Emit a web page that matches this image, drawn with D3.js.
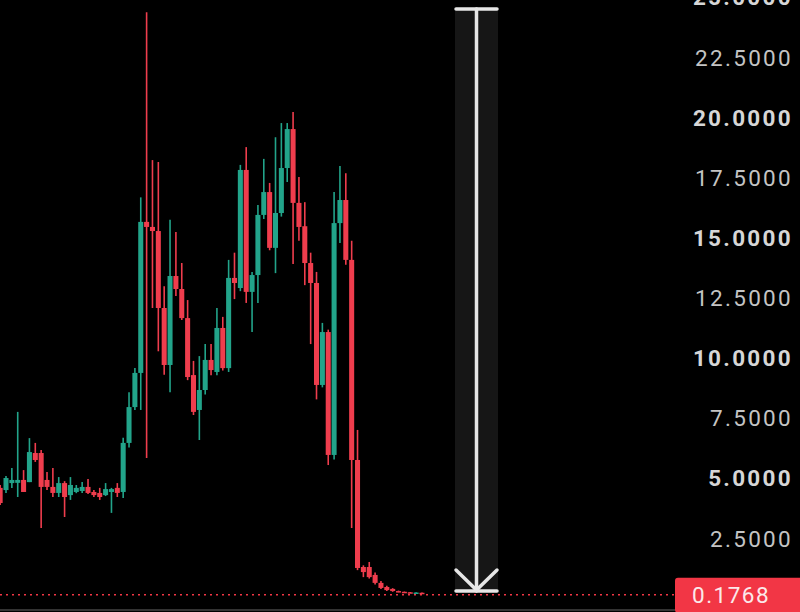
<!DOCTYPE html>
<html>
<head>
<meta charset="utf-8">
<script src="https://cdn.jsdelivr.net/npm/d3@7"></script>
<style>
  body { margin: 0; background: #000; }
  svg { display: block; }
</style>
</head>
<body>
<div id="chart"></div>
<script>
// candle data, one entry per bar
var opens  = [4.62, 4.53, 4.82, 4.83, 4.95, 4.86, 6.07, 6.07, 4.95, 4.66, 4.41, 4.82, 4.32, 4.45, 4.49, 4.66, 4.45, 4.41, 4.32, 4.45, 4.62,
              4.45, 6.49, 7.98, 9.40, 15.68, 15.47, 15.30, 12.10, 9.73, 13.43, 12.89, 11.68, 9.31, 7.86, 8.69, 9.94, 9.44, 11.27, 9.60, 13.35,
              12.93, 17.84, 12.77, 13.47, 15.97, 16.92, 14.60, 16.05, 17.92, 19.54, 16.47, 15.50, 13.97, 13.14, 8.90, 11.10, 5.99, 15.63, 16.59,
              14.10, 5.78, 1.33, 1.33, 1.00, 0.67, 0.50, 0.42, 0.33, 0.30, 0.28, 0.25, 0.26];
var highs  = [4.74, 5.11, 5.45, 7.78, 5.36, 6.69, 6.49, 6.20, 5.28, 5.45, 5.07, 4.90, 5.07, 4.74, 4.86, 4.99, 4.53, 4.62, 4.82, 4.62, 4.82,
              6.70, 8.60, 9.60, 16.70, 24.40, 18.25, 18.17, 13.00, 15.77, 15.26, 13.97, 12.43, 9.90, 10.10, 10.60, 10.60, 12.10, 11.73, 14.10, 14.40,
              18.05, 18.79, 13.60, 16.38, 18.30, 17.30, 19.20, 19.79, 19.79, 20.25, 17.55, 16.50, 14.40, 13.60, 11.48, 11.20, 16.92, 18.00, 17.70,
              14.90, 7.03, 1.40, 1.54, 1.10, 0.75, 0.55, 0.45, 0.35, 0.31, 0.29, 0.28, 0.27];
var lows   = [3.91, 4.41, 4.62, 4.24, 4.45, 4.86, 5.70, 2.95, 4.53, 4.24, 4.24, 3.41, 4.12, 4.40, 4.41, 4.37, 4.24, 4.12, 4.28, 3.58, 4.24,
              4.20, 6.30, 7.86, 7.86, 5.86, 12.10, 10.30, 9.32, 8.60, 12.60, 11.60, 9.10, 7.65, 6.61, 8.50, 9.30, 9.30, 9.50, 9.44, 12.47,
              12.80, 12.31, 11.10, 12.31, 15.80, 14.50, 13.55, 15.90, 17.34, 13.93, 14.90, 13.05, 10.60, 8.30, 8.80, 5.57, 5.80, 14.80, 13.90,
              2.95, 1.20, 0.91, 0.85, 0.60, 0.42, 0.33, 0.30, 0.28, 0.27, 0.25, 0.24, 0.24];
var closes = [3.99, 5.03, 4.95, 4.95, 4.45, 6.11, 5.78, 4.66, 4.66, 4.41, 4.82, 4.24, 4.74, 4.62, 4.66, 4.41, 4.32, 4.24, 4.57, 4.57, 4.41,
              6.49, 7.98, 9.40, 15.68, 15.47, 15.30, 12.10, 9.73, 13.43, 12.89, 11.68, 9.23, 7.78, 8.69, 9.94, 9.52, 11.27, 9.60, 13.35, 13.14,
              17.84, 12.77, 13.47, 15.97, 16.92, 14.60, 16.05, 17.92, 19.54, 16.47, 15.47, 13.97, 13.14, 8.90, 11.10, 5.99, 15.63, 16.59, 14.10,
              5.78, 1.29, 1.12, 0.91, 0.67, 0.46, 0.37, 0.33, 0.30, 0.28, 0.26, 0.27, 0.25];

var tickValues = [2.5, 5, 7.5, 10, 12.5, 15, 17.5, 20, 22.5, 25];
var lastPrice = 0.1768;
var measureFrom = 24.53, measureTo = 0.33;   // the ruler tool drawn over the chart

var width = 800, height = 612;
var upColor = "#22a48a", downColor = "#ef3d4d";

var svg = d3.select("#chart").append("svg")
  .attr("width", width)
  .attr("height", height)
  .style("background", "#000");

var candles = opens.map(function(o, i) {
  return {i: i, o: o, h: highs[i], l: lows[i], c: closes[i]};
});

// x: one band per bar, y: price
var x = d3.scaleBand()
  .domain(d3.range(candles.length))
  .range([-3.2, -3.2 + candles.length * 5.87])
  .padding(0.14);
var y = d3.scaleLinear()
  .domain([0, 25])
  .range([599, -2.25]);

// ruler band + arrow
var rx0 = 455, rx1 = 498, rxm = (rx0 + rx1) / 2;
svg.append("rect")
  .attr("x", rx0).attr("width", rx1 - rx0)
  .attr("y", y(measureFrom)).attr("height", y(measureTo) - y(measureFrom))
  .attr("fill", "#161616");

// bottom pane edge
svg.append("line")
  .attr("x1", 0).attr("x2", width)
  .attr("y1", 610).attr("y2", 610)
  .attr("stroke", "#333").attr("stroke-width", 2);

// candles
var g = svg.append("g");
var bars = g.selectAll(".candle")
  .data(candles).enter()
  .append("g")
  .attr("class", "candle");

bars.append("line")
  .attr("x1", function(d) { return x(d.i) + x.bandwidth() / 2; })
  .attr("x2", function(d) { return x(d.i) + x.bandwidth() / 2; })
  .attr("y1", function(d) { return y(d.h); })
  .attr("y2", function(d) { return y(d.l); })
  .attr("stroke", function(d) { return d.c >= d.o ? upColor : downColor; })
  .attr("stroke-width", 1.6);

bars.append("rect")
  .attr("x", function(d) { return x(d.i); })
  .attr("width", x.bandwidth())
  .attr("y", function(d) { return y(Math.max(d.o, d.c)); })
  .attr("height", function(d) { return Math.max(1.5, Math.abs(y(d.o) - y(d.c))); })
  .attr("fill", function(d) { return d.c >= d.o ? upColor : downColor; });

// arrow on top of the band
var arrow = svg.append("g")
  .attr("stroke", "#e6e6e6")
  .attr("stroke-width", 3.5)
  .attr("stroke-linecap", "round")
  .attr("fill", "none");
arrow.append("line")
  .attr("x1", rxm).attr("x2", rxm)
  .attr("y1", y(measureFrom)).attr("y2", y(measureTo));
arrow.append("line")
  .attr("x1", rx0 + 1).attr("x2", rx1 - 1)
  .attr("y1", y(measureFrom)).attr("y2", y(measureFrom));
arrow.append("line")
  .attr("x1", rx0 + 1).attr("x2", rx1 - 1)
  .attr("y1", y(measureTo)).attr("y2", y(measureTo));
arrow.append("path")
  .attr("d", "M" + (rx0 + 1) + "," + (y(measureTo) - 21) + "L" + rxm + "," + (y(measureTo) - 1) + "L" + (rx1 - 1) + "," + (y(measureTo) - 21));

// last price line
svg.append("line")
  .attr("x1", 0).attr("x2", 675)
  .attr("y1", y(lastPrice)).attr("y2", y(lastPrice))
  .attr("stroke", "#f23645")
  .attr("stroke-width", 1.5)
  .attr("stroke-dasharray", "2,4");

// y axis labels on the right
var axis = d3.axisRight(y)
  .tickValues(tickValues)
  .tickSize(0)
  .tickFormat(d3.format(".4f"));
var ax = svg.append("g")
  .attr("transform", "translate(793,0)")
  .call(axis);
ax.select(".domain").remove();
ax.selectAll("text")
  .attr("x", 0)
  .attr("text-anchor", "end")
  .attr("fill", function(d) { return d % 5 === 0 ? "#d6d6d6" : "#c4c4c4"; })
  .style("font-family", "Roboto, 'Noto Sans', sans-serif")
  .style("font-size", "22.5px")
  .style("letter-spacing", "2.3px")
  .style("font-weight", function(d) { return d % 5 === 0 ? "bold" : "normal"; });

// last price tag
svg.append("rect")
  .attr("x", 675).attr("y", y(lastPrice) - 17)
  .attr("width", 130).attr("height", 35)
  .attr("rx", 3)
  .attr("fill", "#f23645");
svg.append("text")
  .attr("x", 692).attr("y", y(lastPrice))
  .attr("dy", "0.36em")
  .attr("text-anchor", "start")
  .attr("fill", "#fbe9ea")
  .style("font-family", "Roboto, 'Noto Sans', sans-serif")
  .style("font-size", "22.5px")
  .style("letter-spacing", "1.5px")
  .text(d3.format(".4f")(lastPrice));
</script>
</body>
</html>
